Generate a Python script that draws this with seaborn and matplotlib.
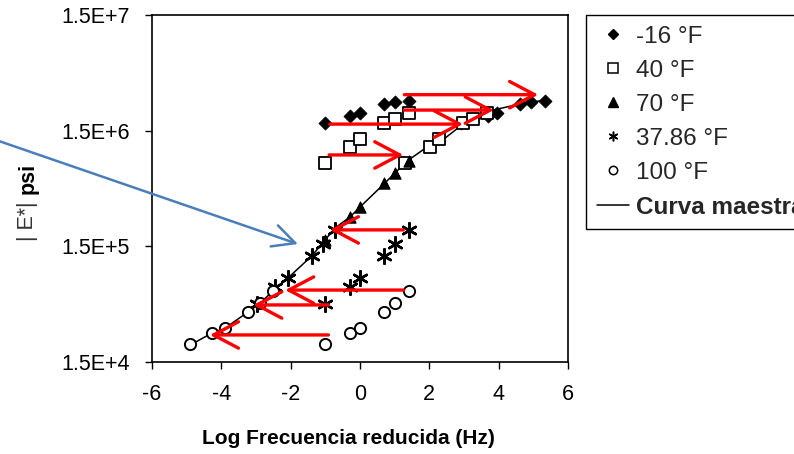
import matplotlib
matplotlib.use("Agg")
import matplotlib.pyplot as plt
import seaborn as sns
import pandas as pd
from matplotlib.lines import Line2D
from matplotlib.ticker import NullLocator

# ---------------- data ----------------
log_freq = [-1.0, -0.30, 0.0, 0.70, 1.0, 1.40]          # raw log frequency (Hz)
series_labels = ["-16 °F", "40 °F", "70 °F", "37.86 °F", "100 °F"]

e_m16 = [1.74e6, 2.01e6, 2.14e6, 2.55e6, 2.67e6, 2.72e6]
e_40 = [7.93e5, 1.09e6, 1.26e6, 1.74e6, 1.88e6, 2.12e6]
e_70 = [1.70e5, 2.69e5, 3.29e5, 5.24e5, 6.46e5, 8.19e5]
e_3786 = [4.76e4, 6.67e4, 7.98e4, 1.24e5, 1.57e5, 2.08e5]
e_100 = [2.13e4, 2.69e4, 2.97e4, 4.08e4, 4.88e4, 6.16e4]

# reduced (shifted) log frequency of the same points
red_m16 = [2.92, 3.68, 3.95, 4.62, 4.92, 5.34]
red_40 = [1.30, 2.02, 2.29, 2.98, 3.27, 3.66]
red_3786 = [-2.97, -2.45, -2.08, -1.39, -1.07, -0.72]
red_100 = [-4.90, -4.28, -3.89, -3.22, -2.88, -2.51]

# master curve
master_x = [-4.90, -4.27, -3.89, -3.23, -2.88, -2.51, -2.08, -1.39, -1.01, -0.72,
            -0.29, 0.0, 0.69, 1.01, 1.36, 2.02, 2.42, 2.97, 3.46, 3.84, 4.61, 5.34]
master_e = [2.10e4, 2.67e4, 2.95e4, 4.06e4, 4.85e4, 6.16e4, 7.98e4, 1.24e5, 1.70e5, 2.16e5,
            2.69e5, 3.28e5, 5.19e5, 6.46e5, 8.20e5, 1.13e6, 1.27e6, 1.71e6, 2.01e6, 2.26e6,
            2.55e6, 2.76e6]

# red shift arrows (start x, end x, level)
arrow_x0 = [-0.87, 1.28, 1.28, -0.89, 1.25, 1.25, -0.91, -0.91]
arrow_x1 = [2.97, 5.14, 3.86, 1.25, -0.87, -2.16, -3.08, -4.33]
arrow_e = [1.71e6, 3.07e6, 2.26e6, 9.25e5, 2.08e5, 6.28e4, 4.67e4, 2.57e4]

# blue pointer arrow
blue_start = (-10.5, 1.245e6)
blue_tip = (-1.79, 1.57e5)

x_ticks = [-6, -4, -2, 0, 2, 4, 6]
y_ticks = [1.5e4, 1.5e5, 1.5e6, 1.5e7]
y_tick_labels = ["1.5E+4", "1.5E+5", "1.5E+6", "1.5E+7"]

# ---------------- styling ----------------
sns.set_theme(style="white")
plt.rcParams["font.family"] = ["Liberation Sans", "DejaVu Sans"]
plt.rcParams["axes.unicode_minus"] = False

W, H = 794, 454
fig = plt.figure(figsize=(W / 100, H / 100), dpi=100)
ax = fig.add_axes([152 / W, 1 - 362 / H, (568 - 152) / W, (362 - 15) / H])

marker_star = (6, 2, 0)
styles = [
    dict(marker="D", s=45, color="black", edgecolor="black", linewidth=0.5),
    dict(marker="s", s=70, facecolor="white", edgecolor="black", linewidth=1.3),
    dict(marker="^", s=65, color="black", edgecolor="black", linewidth=0.5),
    dict(marker=marker_star, s=110, color="black", linewidth=1.8),
    dict(marker="o", s=65, facecolor="white", edgecolor="black", linewidth=1.4),
]
raw_vals = [e_m16, e_40, e_70, e_3786, e_100]
red_vals = [red_m16, red_40, log_freq, red_3786, red_100]

# master curve
sns.lineplot(x=master_x, y=master_e, ax=ax, color="black", lw=1.1, sort=False,
             estimator=None, zorder=2)

for lab, ev, rx, st in zip(series_labels, raw_vals, red_vals, styles):
    df = pd.DataFrame({"x": list(log_freq) + list(rx), "E": list(ev) + list(ev)})
    sns.scatterplot(data=df, x="x", y="E", ax=ax, zorder=3, legend=False, **st)

# red arrows
for x0, x1, e in zip(arrow_x0, arrow_x1, arrow_e):
    ax.annotate("", xy=(x1, e), xytext=(x0, e),
                arrowprops=dict(arrowstyle="->,head_length=1.8,head_width=0.95",
                                color="#ff0000", lw=2.4, shrinkA=0, shrinkB=0,
                                mutation_scale=10), zorder=4)

# blue arrow
ax.annotate("", xy=blue_tip, xytext=blue_start,
            arrowprops=dict(arrowstyle="->,head_length=1.6,head_width=0.8",
                            color="#4a7ebb", lw=1.8, shrinkA=0, shrinkB=0,
                            mutation_scale=10),
            annotation_clip=False, zorder=5)

ax.set_yscale("log")
ax.set_xlim(-6, 6)
ax.set_ylim(1.5e4, 1.5e7)
ax.set_xticks(x_ticks)
ax.set_xticklabels([str(t) for t in x_ticks])
ax.set_yticks(y_ticks)
ax.set_yticklabels(y_tick_labels)
ax.yaxis.set_minor_locator(NullLocator())
ax.tick_params(axis="both", direction="out", length=5, width=1.0, color="black",
               labelsize=15.5, labelcolor="black", bottom=True, left=True)
ax.tick_params(axis="y", pad=11)
ax.tick_params(axis="x", pad=11)
for sp in ax.spines.values():
    sp.set_visible(True)
    sp.set_color("black")
    sp.set_linewidth(1.2)
ax.set_xlabel("")
ax.set_ylabel("")

fig.text(348 / W, 1 - 438 / H, "Log Frecuencia reducida (Hz)", ha="center", va="center",
         fontsize=15, fontweight="bold", color="black")
# y label: "| E*|" in normal weight, "psi" bold (as in the reference)
fig.text(28 / W, 1 - 221 / H, "| E*|", ha="center", va="center", rotation=90,
         fontsize=15.5, color="#333333")
fig.text(28 / W, 1 - 178 / H, "psi", ha="center", va="center", rotation=90,
         fontsize=15.5, fontweight="bold", color="black")

# legend
handles = [
    Line2D([], [], ls="none", marker="D", ms=5, mfc="black", mec="black"),
    Line2D([], [], ls="none", marker="s", ms=6.5, mfc="white", mec="black", mew=1.1),
    Line2D([], [], ls="none", marker="^", ms=6.5, mfc="black", mec="black"),
    Line2D([], [], ls="none", marker=marker_star, ms=7, mfc="black", mec="black", mew=1.1),
    Line2D([], [], ls="none", marker="o", ms=6, mfc="white", mec="black", mew=1.1),
    Line2D([], [], color="black", lw=1.1),
]
labels = series_labels + ["Curva maestra"]
leg = fig.legend(handles, labels, loc="upper left", bbox_to_anchor=(586 / W, 1 - 15 / H),
                 bbox_transform=fig.transFigure, borderaxespad=0, fontsize=17.5,
                 frameon=True, fancybox=False, shadow=False, framealpha=1,
                 edgecolor="black", handlelength=1.3, handletextpad=0.3,
                 labelspacing=0.49, borderpad=0.45)
leg.get_frame().set_linewidth(1.0)
leg.get_texts()[-1].set_fontweight("bold")

fig.savefig("out.png", dpi=100)
